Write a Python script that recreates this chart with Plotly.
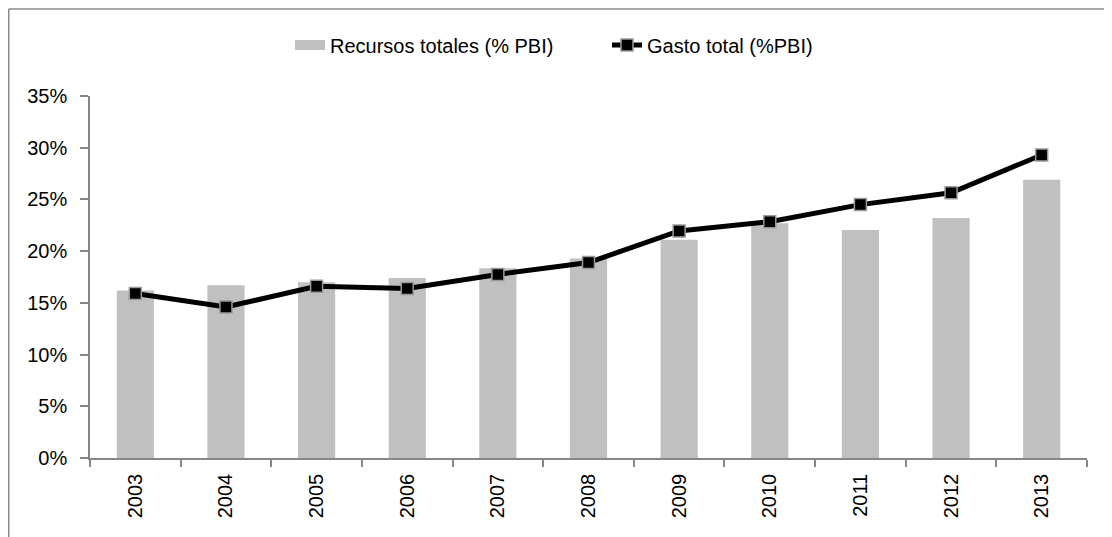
import plotly.graph_objects as go

years = ["2003", "2004", "2005", "2006", "2007", "2008", "2009", "2010", "2011", "2012", "2013"]
recursos = [16.2, 16.7, 17.0, 17.4, 18.35, 19.3, 21.1, 22.7, 22.05, 23.2, 26.9]
gasto = [15.9, 14.6, 16.6, 16.4, 17.75, 18.9, 21.95, 22.85, 24.5, 25.65, 29.3]
y_ticks = [0, 5, 10, 15, 20, 25, 30, 35]
y_tick_labels = ["0%", "5%", "10%", "15%", "20%", "25%", "30%", "35%"]

name_rec = "Recursos totales (% PBI)"
name_gas = "Gasto total (%PBI)"

BAR = "#c0c0c0"
AXIS = "#868686"
FONT = "Liberation Sans, Arial, sans-serif"

# the page body has an 8px margin; work in window pixels and convert
OFF = 8
WIN_W, WIN_H = 1112, 537
W, H = WIN_W - OFF, WIN_H - OFF
# plot area in window pixels
X0, X1, Y0, Y1 = 90, 1087, 96, 458
L, R, T, B = X0 - OFF, WIN_W - X1, Y0 - OFF, WIN_H - Y1
pw, ph = X1 - X0, Y1 - Y0

def px(xp):
    return (xp - X0) / pw

def py(yp):
    return (Y1 - yp) / ph

fig = go.Figure()
fig.add_trace(go.Bar(
    x=years, y=recursos, name=name_rec, marker=dict(color=BAR, line=dict(width=0)),
    width=0.41, showlegend=False, hoverinfo="x+y",
))
# legend swatch for the bars (wide rectangle like the original)
fig.add_trace(go.Scatter(
    x=[None], y=[None], mode="lines", name=name_rec,
    line=dict(color=BAR, width=13), showlegend=True,
))
fig.add_trace(go.Scatter(
    x=years, y=gasto, name=name_gas, mode="lines+markers",
    line=dict(color="black", width=5),
    marker=dict(symbol="square", size=12, color="black", line=dict(color="#9a9a9a", width=1.5)),
))

fig.update_layout(
    width=W, height=H,
    margin=dict(l=L, r=R, t=T, b=B, pad=0),
    paper_bgcolor="white", plot_bgcolor="white",
    font=dict(family=FONT, size=20, color="black"),
    legend=dict(
        orientation="h", x=px(290), xanchor="left", y=py(45), yanchor="middle",
        font=dict(family=FONT, size=20, color="black"),
        itemwidth=30, entrywidth=272, entrywidthmode="pixels",
        tracegroupgap=0, bgcolor="rgba(0,0,0,0)",
    ),
    xaxis=dict(
        type="category", showgrid=False, showline=True, linecolor=AXIS, linewidth=1.5,
        ticks="outside", tickson="boundaries", ticklen=7, tickcolor=AXIS, tickwidth=1.5,
        tickangle=-90, tickfont=dict(family=FONT, size=20), ticklabelstandoff=6,
        range=[-0.5, 10.5],
    ),
    yaxis=dict(
        range=[0, 35], tickvals=y_ticks, ticktext=y_tick_labels, showgrid=False,
        showline=True, linecolor=AXIS, linewidth=1.5, zeroline=False,
        ticks="outside", ticklen=8, tickcolor=AXIS, tickwidth=1.5,
        tickfont=dict(family=FONT, size=20), ticklabelstandoff=9,
    ),
    shapes=[
        dict(type="line", xref="paper", yref="paper", x0=px(8.75), x1=px(WIN_W + 5), y0=py(9), y1=py(9),
             line=dict(color="#8c8c8c", width=1.5)),
        dict(type="line", xref="paper", yref="paper", x0=px(8.75), x1=px(8.75), y0=py(9), y1=py(WIN_H + 5),
             line=dict(color="#8c8c8c", width=1.5)),
    ],
)

fig.write_html("out.html")
